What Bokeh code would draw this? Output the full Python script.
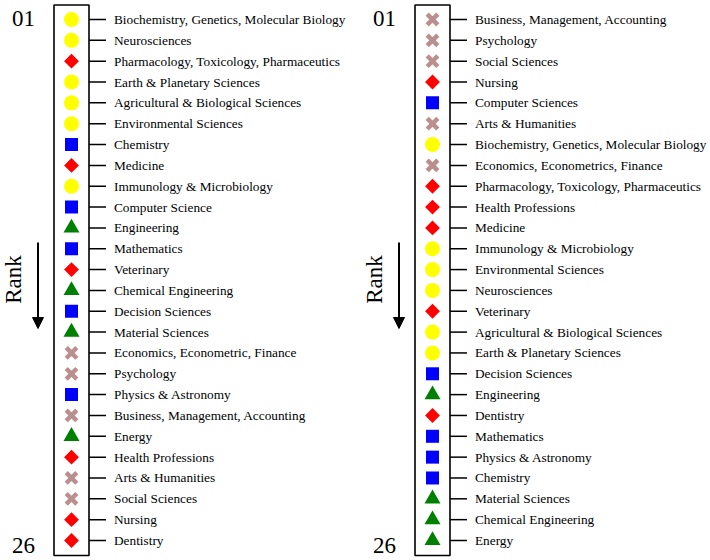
import math
from bokeh.plotting import figure
from bokeh.models import ColumnDataSource, Range1d, Label, Arrow, NormalHead
from bokeh.embed import file_html
from bokeh.resources import INLINE

# ---------------- data ----------------
left_subjects = [
    "Biochemistry, Genetics, Molecular Biology", "Neurosciences",
    "Pharmacology, Toxicology, Pharmaceutics", "Earth & Planetary Sciences",
    "Agricultural & Biological Sciences", "Environmental Sciences", "Chemistry",
    "Medicine", "Immunology & Microbiology", "Computer Science", "Engineering",
    "Mathematics", "Veterinary", "Chemical Engineering", "Decision Sciences",
    "Material Sciences", "Economics, Econometric, Finance", "Psychology",
    "Physics & Astronomy", "Business, Management, Accounting", "Energy",
    "Health Professions", "Arts & Humanities", "Social Sciences", "Nursing",
    "Dentistry",
]
left_groups = [
    "life", "life", "health", "life", "life", "life", "physical", "health",
    "life", "physical", "engineering", "physical", "health", "engineering",
    "physical", "engineering", "social", "social", "physical", "social",
    "engineering", "health", "social", "social", "health", "health",
]
right_subjects = [
    "Business, Management, Accounting", "Psychology", "Social Sciences",
    "Nursing", "Computer Sciences", "Arts & Humanities",
    "Biochemistry, Genetics, Molecular Biology",
    "Economics, Econometrics, Finance",
    "Pharmacology, Toxicology, Pharmaceutics", "Health Professions",
    "Medicine", "Immunology & Microbiology", "Environmental Sciences",
    "Neurosciences", "Veterinary", "Agricultural & Biological Sciences",
    "Earth & Planetary Sciences", "Decision Sciences", "Engineering",
    "Dentistry", "Mathematics", "Physics & Astronomy", "Chemistry",
    "Material Sciences", "Chemical Engineering", "Energy",
]
right_groups = [
    "social", "social", "social", "health", "physical", "social", "life",
    "social", "health", "health", "health", "life", "life", "life", "health",
    "life", "life", "physical", "engineering", "health", "physical",
    "physical", "physical", "engineering", "engineering", "engineering",
]
rank_tick_labels = ["01", "26"]
rank_tick_values = [1, 26]

# ---------------- styles ----------------
group_style = {
    "life": dict(marker="circle", size=15, fill_color="#FFFF00", line_color=None, angle=0),
    "health": dict(marker="square", size=10.5, fill_color="#FF0000", line_color=None, angle=math.pi / 4),
    "physical": dict(marker="square", size=13, fill_color="#0000FF", line_color=None, angle=0),
    "engineering": dict(marker="triangle", size=16, fill_color="#008000", line_color=None, angle=0),
    "social": dict(marker="x", size=15, fill_color=None, line_color="#BC8F8F", angle=0, line_width=4.5),
}

W, H = 710, 560
PX_PER_RANK = 20.84
RANK_TOP = 1 - 19 / PX_PER_RANK
RANK_BOT = RANK_TOP + H / PX_PER_RANK


def py_to_rank(py):
    return RANK_TOP + py / PX_PER_RANK


p = figure(width=W, height=H, output_backend="svg", toolbar_location=None,
           x_range=Range1d(0, W), y_range=Range1d(RANK_BOT, RANK_TOP),
           x_axis_type=None, y_axis_type=None, min_border=0)
p.grid.visible = False
p.outline_line_color = None
p.background_fill_color = "white"

FONT = "Liberation Serif"

panels = [
    (left_subjects, left_groups, 53.5),
    (right_subjects, right_groups, 414.5),
]

for subjects, groups, box_left in panels:
    ranks = list(range(1, len(subjects) + 1))
    box_right = box_left + 35
    mx = box_left + 17.5
    # box
    p.quad(left=[box_left], right=[box_right], top=[py_to_rank(4.5)],
           bottom=[py_to_rank(555)], fill_color=None, line_color="black",
           line_width=1.6)
    # leader ticks
    p.segment(x0=[box_right] * len(ranks), x1=[box_right + 17] * len(ranks),
              y0=ranks, y1=ranks, line_color="black", line_width=1.5)
    # labels
    for r, s in zip(ranks, subjects):
        p.add_layout(Label(x=box_right + 25, y=r, text=s, text_font=FONT,
                           text_font_size="13.3px", text_baseline="middle",
                           text_align="left", text_color="black"))
    # markers
    for g, st in group_style.items():
        ys = [r for r, gg in zip(ranks, groups) if gg == g]
        if not ys:
            continue
        src = ColumnDataSource(dict(x=[mx] * len(ys), y=ys))
        p.scatter("x", "y", source=src, **st)
    # rank tick labels
    for lab, rv in zip(rank_tick_labels, rank_tick_values):
        yy = rv - 0.05 if rv == 1 else rv + 0.25
        p.add_layout(Label(x=box_left - 42, y=yy, text=lab, text_font=FONT,
                           text_font_size="23px", text_baseline="middle",
                           text_align="left", text_color="black"))
    # Rank label and arrow
    p.add_layout(Label(x=box_left - 41, y=py_to_rank(279), text="Rank", angle=math.pi / 2,
                       text_font=FONT, text_font_size="23px",
                       text_baseline="middle", text_align="center", text_color="black"))
    p.add_layout(Arrow(x_start=box_left - 16, y_start=py_to_rank(242),
                       x_end=box_left - 16, y_end=py_to_rank(328), line_width=2,
                       line_color="black",
                       end=NormalHead(size=11, fill_color="black", line_color="black")))

open("out.html", "w").write(file_html(p, INLINE))
